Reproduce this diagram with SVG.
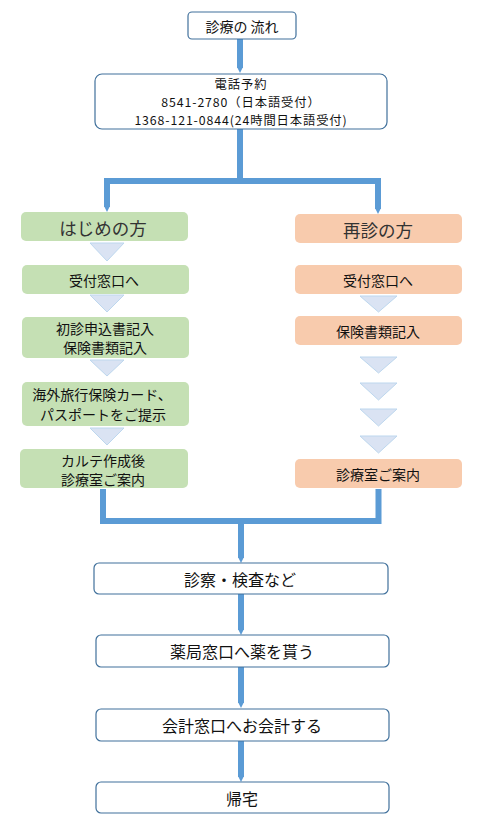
<svg xmlns="http://www.w3.org/2000/svg" width="479" height="821" viewBox="0 0 479 821">
<defs>
<style>
.w{fill:#fff;stroke:#41719c;stroke-width:1.2}
.g{fill:#c5e0b4}
.p{fill:#f8cbad}
.tri{fill:#dae3f3;stroke:#bdd7ee;stroke-width:1}
.ln{fill:none;stroke:#5b9bd5;stroke-width:6}
text{font-family:"Noto Sans CJK JP","Noto Sans",sans-serif;fill:#111;text-anchor:middle;dominant-baseline:central}
.s{font-size:14px}
.ph{font-size:12.3px;letter-spacing:0.9px}
.m{font-size:16px}
.l{font-size:17.5px;fill:#333}
</style>
<marker id="ah" viewBox="0 0 10 10" refX="0" refY="5" markerWidth="5" markerHeight="10" markerUnits="userSpaceOnUse" orient="auto">
<path d="M0,0 L10,5 L0,10 z" fill="#5b9bd5"/>
</marker>
</defs>
<g id="connectors">
<path class="ln" d="M240,39 V68" marker-end="url(#ah)"/>
<path class="ln" d="M240,129 V181 H107 V207" marker-end="url(#ah)"/>
<path class="ln" d="M240,181 H378 V209" marker-end="url(#ah)"/>
<path class="ln" d="M103,489 V521 H378.5 V489"/>
<path class="ln" d="M241,521 V558" marker-end="url(#ah)"/>
<path class="ln" d="M241,594 V630" marker-end="url(#ah)"/>
<path class="ln" d="M241,667 V703" marker-end="url(#ah)"/>
<path class="ln" d="M241,741 V777" marker-end="url(#ah)"/>
</g>
<g id="triangles">
<polygon class="tri" points="90,243 124,243 107,261"/>
<polygon class="tri" points="90,295 124,295 107,312"/>
<polygon class="tri" points="90,360 124,360 107,376"/>
<polygon class="tri" points="90,428 124,428 107,445"/>
<polygon class="tri" points="360,296 397,296 378.5,312"/>
<polygon class="tri" points="360,357 397,357 378.5,373"/>
<polygon class="tri" points="360,383 397,383 378.5,400"/>
<polygon class="tri" points="360,409 397,409 378.5,426"/>
<polygon class="tri" points="360,436 397,436 378.5,453"/>
</g>
<g id="n-title"><rect class="w" x="188" y="12" width="108" height="27" rx="4"/><text class="s" x="242" y="25.5">診療の 流れ</text></g>
<g id="n-phone"><rect class="w" x="95" y="74" width="292" height="55" rx="7"/>
<text class="ph" x="241" y="84">電話予約</text>
<text class="ph" x="241" y="102">8541-2780（日本語受付）</text>
<text class="ph" x="241" y="120">1368-121-0844(24時間日本語受付)</text></g>
<g id="n-first"><rect class="g" x="21" y="212" width="167" height="29" rx="5"/><text class="l" x="103" y="227">はじめの方</text></g>
<g id="n-first-1"><rect class="g" x="22" y="265" width="167" height="29" rx="5"/><text class="s" x="104" y="279.5">受付窓口へ</text></g>
<g id="n-first-2"><rect class="g" x="22" y="317" width="167" height="41" rx="5"/><text class="s" x="105" y="328">初診申込書記入</text><text class="s" x="105" y="347">保険書類記入</text></g>
<g id="n-first-3"><rect class="g" x="22" y="382" width="167" height="44" rx="5"/><text class="s" x="102" y="394">海外旅行保険カード、</text><text class="s" x="103" y="413.5">パスポートをご提示</text></g>
<g id="n-first-4"><rect class="g" x="20" y="449" width="168" height="39" rx="5"/><text class="s" x="103" y="459.5">カルテ作成後</text><text class="s" x="103" y="478.5">診療室ご案内</text></g>
<g id="n-re"><rect class="p" x="295" y="214" width="167" height="29" rx="5"/><text class="l" x="378" y="229">再診の方</text></g>
<g id="n-re-1"><rect class="p" x="295" y="265" width="167" height="29" rx="5"/><text class="s" x="378" y="279.5">受付窓口へ</text></g>
<g id="n-re-2"><rect class="p" x="295" y="316" width="167" height="29" rx="5"/><text class="s" x="378" y="330.5">保険書類記入</text></g>
<g id="n-re-3"><rect class="p" x="295" y="459" width="167" height="29" rx="5"/><text class="s" x="378" y="473.5">診療室ご案内</text></g>
<g id="n-exam"><rect class="w" x="94" y="563" width="294" height="31" rx="5"/><text class="m" x="240" y="578.5">診察・検査など</text></g>
<g id="n-pharm"><rect class="w" x="96" y="635" width="293" height="32" rx="5"/><text class="m" x="242" y="651">薬局窓口へ薬を貰う</text></g>
<g id="n-pay"><rect class="w" x="96" y="709" width="293" height="32" rx="5"/><text class="m" x="242" y="725">会計窓口へお会計する</text></g>
<g id="n-home"><rect class="w" x="96" y="782" width="293" height="31" rx="5"/><text class="m" x="242" y="797.5">帰宅</text></g>
</svg>
